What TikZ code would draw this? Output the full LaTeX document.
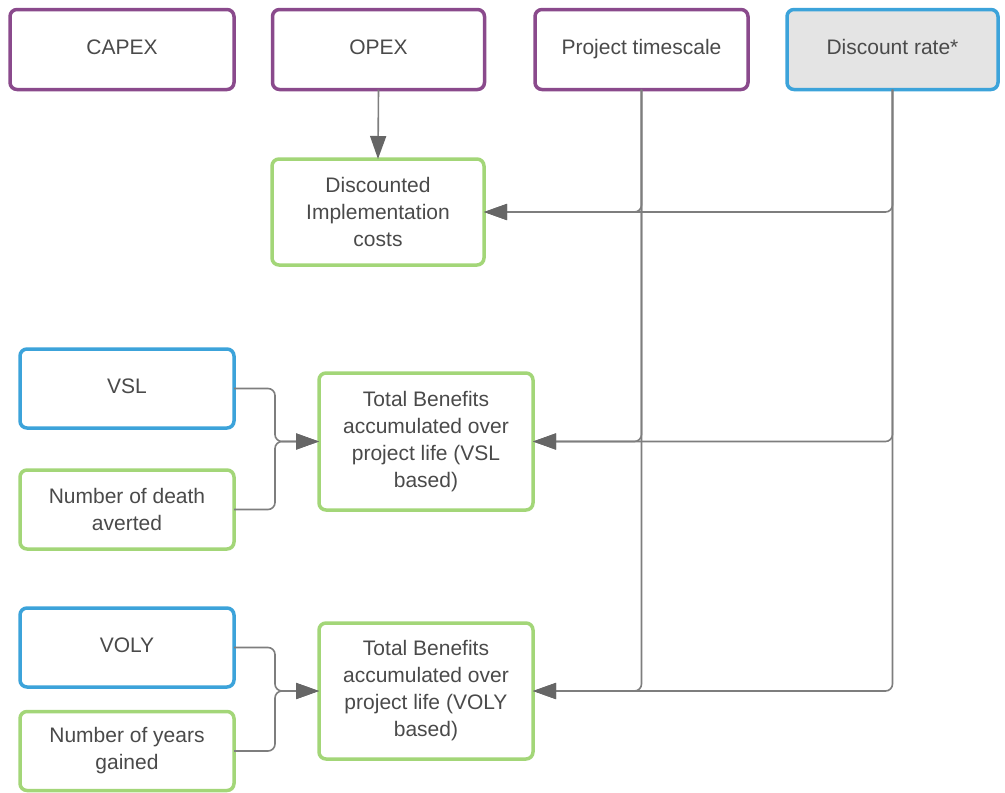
\documentclass[tikz,border=0pt]{standalone}
\usepackage{fontspec}
\setmainfont{Liberation Sans}
\usetikzlibrary{arrows.meta}
\definecolor{purp}{HTML}{8A4A8C}
\definecolor{blu}{HTML}{3CA3DA}
\definecolor{grn}{HTML}{A3D678}
\definecolor{txt}{HTML}{4A4A4A}
\definecolor{wire}{HTML}{7E7E7E}
\definecolor{tip}{HTML}{666666}
\definecolor{shade}{HTML}{E4E4E4}
\tikzset{
  box/.style={draw, line width=3.5pt, rounded corners=7pt, fill=white,
    align=center, text=txt, font=\fontsize{21}{27}\selectfont,
    inner sep=0pt, outer sep=0pt},
  oneline/.style={text height=15pt, text depth=5pt},
  inbox/.style={box, oneline, draw=purp, minimum width=212pt, minimum height=80pt},
  keybox/.style={box, draw=blu},
  calcbox/.style={box, draw=grn},
  wirestyle/.style={draw=wire, line width=1.6pt, rounded corners=7pt},
  feed/.style={wirestyle, -{Triangle[length=23pt,width=16pt,fill=tip,color=tip]}}
}
\begin{document}
\begin{tikzpicture}[x=1pt,y=-1pt]
\useasboundingbox (0,0) rectangle (1005,793);
% input parameters
\node[inbox, minimum width=224pt] (capex) at (122,49.5) {CAPEX};
\node[inbox] (opex) at (378.5,49.5) {OPEX};
\node[inbox, minimum width=213pt] (time) at (641.5,49.5) {Project timescale};
\node[keybox, oneline, fill=shade, minimum width=211pt, minimum height=80pt] (rate) at (892.5,49.5) {Discount rate*};
% derived quantities
\node[calcbox, minimum width=212pt, minimum height=106pt] (cost) at (378,212) {Discounted\\Implementation\\costs};
\node[keybox, oneline, minimum width=214pt, minimum height=79pt] (vsl) at (127,388.5) {VSL};
\node[calcbox, minimum width=214pt, minimum height=79pt] (death) at (127,509.5) {Number of death\\averted};
\node[keybox, oneline, minimum width=214pt, minimum height=79pt] (voly) at (127,647.5) {VOLY};
\node[calcbox, minimum width=214pt, minimum height=79pt] (years) at (127,751) {Number of years\\gained};
\node[calcbox, minimum width=214pt, minimum height=137pt] (tbvsl) at (426,441.5) {Total Benefits\\accumulated over\\project life (VSL\\based)};
\node[calcbox, minimum width=214pt, minimum height=136pt] (tbvoly) at (426,691) {Total Benefits\\accumulated over\\project life (VOLY\\based)};
% connectors
\draw[feed, rounded corners=0pt] (opex.south) -- (cost.north);
\foreach \t in {cost,tbvsl,tbvoly}{
  \draw[feed] (time.south) |- (\t.east);
  \draw[feed] (rate.south) |- (\t.east);
}
\coordinate (bj1) at (275,441.5);
\draw[feed] (vsl.east) -| (bj1) -- (tbvsl.west);
\draw[feed] (death.east) -| (bj1) -- (tbvsl.west);
\coordinate (bj2) at (275,691);
\draw[feed] (voly.east) -| (bj2) -- (tbvoly.west);
\draw[feed] (years.east) -| (bj2) -- (tbvoly.west);
\end{tikzpicture}
\end{document}
